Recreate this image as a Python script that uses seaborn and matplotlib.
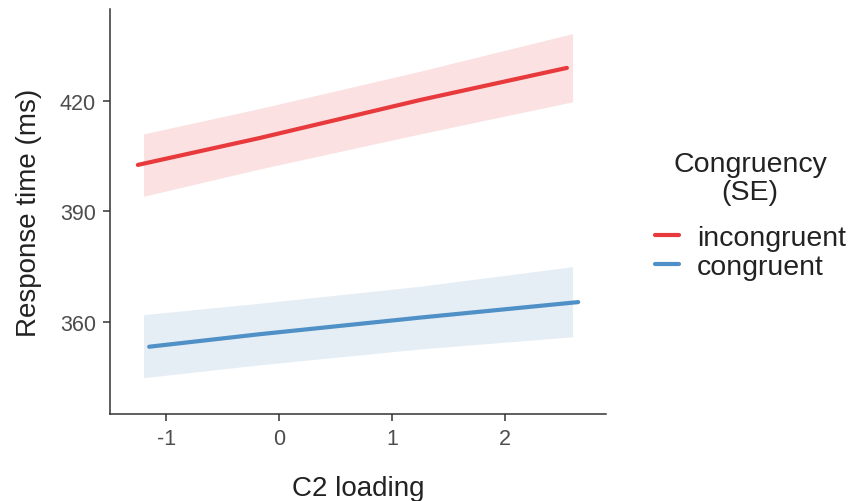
import matplotlib
matplotlib.use("Agg")
import matplotlib.pyplot as plt
import seaborn as sns
import pandas as pd

# Data
groups = ["incongruent", "congruent"]
line_x_incong = [-1.25, -0.17, 1.25, 2.55]
line_y_incong = [402.6, 409.9, 420.2, 428.9]
line_x_cong = [-1.15, -0.17, 1.25, 2.65]
line_y_cong = [353.3, 356.7, 361.2, 365.4]

band_x = [-1.2, -0.17, 1.25, 2.6]
band_hi_incong = [411.0, 417.9, 428.0, 438.2]
band_lo_incong = [394.1, 401.5, 411.0, 419.7]
band_hi_cong = [362.0, 365.1, 369.7, 375.0]
band_lo_cong = [344.9, 348.4, 352.7, 356.0]

x_ticks = [-1, 0, 1, 2]
y_ticks = [360, 390, 420]

colors = {"incongruent": "#E8393C", "congruent": "#4F90C6"}
band_colors = {"incongruent": "#E41A1C", "congruent": "#377EB8"}

sns.set_theme(style="ticks")
plt.rcParams['font.family'] = ['Liberation Sans', 'DejaVu Sans']

df = pd.concat([
    pd.DataFrame({"x": line_x_incong, "y": line_y_incong, "Congruency": "incongruent"}),
    pd.DataFrame({"x": line_x_cong, "y": line_y_cong, "Congruency": "congruent"}),
], ignore_index=True)

fig = plt.figure(figsize=(8.52, 5.02), dpi=100)
ax = fig.add_axes([0.1291, 0.1733, 0.5821, 0.8067])

ax.fill_between(band_x, band_lo_incong, band_hi_incong, color=band_colors["incongruent"],
                alpha=0.13, linewidth=0)
ax.fill_between(band_x, band_lo_cong, band_hi_cong, color=band_colors["congruent"],
                alpha=0.13, linewidth=0)

sns.lineplot(data=df, x="x", y="y", hue="Congruency", hue_order=groups,
             palette=colors, linewidth=3, ax=ax, sort=True, estimator=None)

ax.set_xlim(-1.497, 2.896)
ax.set_ylim(335.06, 444.86)
ax.set_xticks(x_ticks)
ax.set_xticklabels([str(t) for t in x_ticks])
ax.set_yticks(y_ticks)
ax.set_yticklabels([str(t) for t in y_ticks])

axis_col = "#333333"
for s in ["left", "bottom"]:
    ax.spines[s].set_color(axis_col)
    ax.spines[s].set_linewidth(1.1)
sns.despine(ax=ax)
ax.tick_params(axis="both", colors=axis_col, length=5, width=1.1, labelsize=15.5,
               labelcolor="#4D4D4D", pad=5)

ax.set_xlabel("C2 loading", fontsize=20, color="#222222", labelpad=19)
ax.set_ylabel("Response time (ms)", fontsize=20, color="#222222", labelpad=13)

leg = ax.legend(title="Congruency\n(SE)", loc="center left", bbox_to_anchor=(1.075, 0.49),
                frameon=False, fontsize=20.5, title_fontsize=20.5, handlelength=0.85,
                handletextpad=0.63, labelspacing=0.12, borderaxespad=0)
leg._legend_box.align = "center"
leg._legend_box.sep = 14
leg.get_title().set_multialignment("center")
leg.get_title().set_color("#222222")
leg.get_title().set_linespacing(1.1)
for t in leg.get_texts():
    t.set_color("#222222")

fig.savefig("out.png", dpi=100)
